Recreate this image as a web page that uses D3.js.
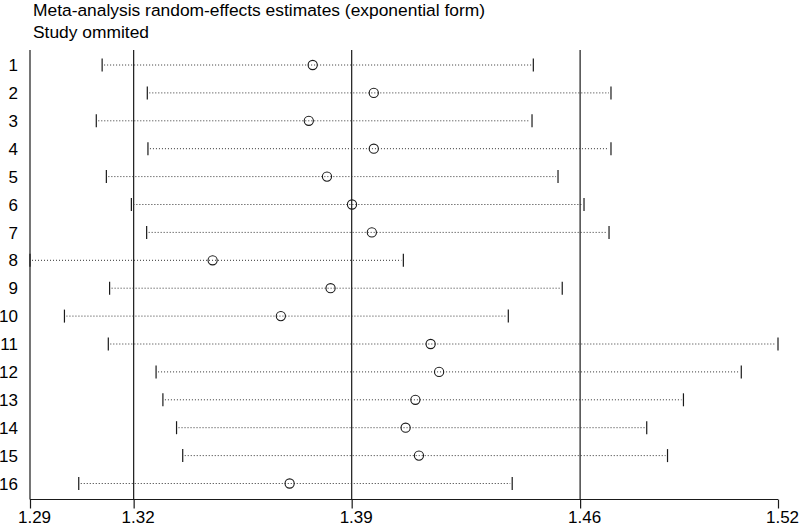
<!DOCTYPE html>
<html>
<head>
<meta charset="utf-8">
<script src="https://cdn.jsdelivr.net/npm/d3@7"></script>
<style>
  html, body { margin: 0; padding: 0; background: #fff; }
  svg { display: block; font-family: "Liberation Sans", Arial, sans-serif; }
</style>
</head>
<body>
<svg id="chart" width="800" height="526"></svg>
<script>
// ---- data (exponential form) ----
const studies = ["1","2","3","4","5","6","7","8","9","10","11","12","13","14","15","16"];
const estimate = [1.3770,1.3958,1.3758,1.3958,1.3814,1.3891,1.3952,1.3462,1.3825,1.3672,1.4133,1.4159,1.4086,1.4056,1.4097,1.3699];
const lower    = [1.3122,1.3261,1.3104,1.3263,1.3135,1.3212,1.3259,1.2900,1.3145,1.3006,1.3141,1.3288,1.3309,1.3351,1.3370,1.3050];
const upper    = [1.4449,1.4688,1.4445,1.4688,1.4525,1.4605,1.4682,1.4049,1.4538,1.4372,1.5202,1.5089,1.4911,1.4798,1.4862,1.4384];
const refLines = [1.3219, 1.3890, 1.4593];          // overall lower CI, estimate, upper CI
const tickValues = [1.2900, 1.3219, 1.3890, 1.4593, 1.5202];
const tickLabels = ["1.29","1.32","1.39","1.46","1.52"];
const titleLines = ["Meta-analysis random-effects estimates (exponential form)", "Study ommited"];

const svg = d3.select("#chart");
const ink = "#1a1a1a";

const x = d3.scaleLinear().domain([1.29, 1.5202]).range([30, 778]);
const y = d3.scalePoint().domain(studies).range([65, 483.5]);
const plotTop = 50, plotBottom = 499.5;

// title
svg.append("g").selectAll("text").data(titleLines).join("text")
  .attr("x", 33).attr("y", (d, i) => 16 + i * 22)
  .attr("font-size", 17.4).attr("fill", "#000")
  .text(d => d);

// reference vertical lines
svg.append("g").selectAll("line").data(refLines).join("line")
  .attr("x1", d => x(d)).attr("x2", d => x(d))
  .attr("y1", plotTop).attr("y2", plotBottom)
  .attr("stroke", ink).attr("stroke-width", 1.2);

// y axis line
svg.append("line").attr("x1", 30).attr("x2", 30).attr("y1", plotTop).attr("y2", plotBottom)
  .attr("stroke", ink).attr("stroke-width", 1.2);

// y labels
svg.append("g").selectAll("text").data(studies).join("text")
  .attr("x", 18).attr("y", d => y(d)).attr("dy", "0.36em")
  .attr("text-anchor", "end").attr("font-size", 17).attr("fill", "#000")
  .text(d => d);

// x axis
const xAxis = d3.axisBottom(x).tickValues(tickValues).tickSize(9).tickPadding(2)
  .tickFormat((d, i) => tickLabels[i]);
const gx = svg.append("g").attr("transform", `translate(0,${plotBottom})`).call(xAxis);
gx.select(".domain").attr("stroke", ink).attr("stroke-width", 1.2).attr("d", `M${x(1.29)},0H${x(1.5202)}`);
gx.selectAll(".tick line").attr("stroke", ink).attr("stroke-width", 1.2);
gx.selectAll(".tick text").attr("font-size", 17).attr("fill", "#000")
  .attr("font-family", "'Liberation Sans', Arial, sans-serif").attr("dx", 4);

// CI rows
const rows = studies.map((s, i) => ({ s, est: estimate[i], lo: lower[i], hi: upper[i] }));
const g = svg.append("g");
g.selectAll("line.ci").data(rows).join("line").attr("class", "ci")
  .attr("x1", d => x(d.lo) + 2).attr("x2", d => x(d.hi) - 2)
  .attr("y1", d => y(d.s)).attr("y2", d => y(d.s))
  .attr("stroke", "#333").attr("stroke-width", 1).attr("stroke-dasharray", "1,2");
g.selectAll("line.capl").data(rows).join("line").attr("class", "capl")
  .attr("x1", d => x(d.lo)).attr("x2", d => x(d.lo))
  .attr("y1", d => y(d.s) - 6.5).attr("y2", d => y(d.s) + 6.5)
  .attr("stroke", ink).attr("stroke-width", 1.2);
g.selectAll("line.caph").data(rows).join("line").attr("class", "caph")
  .attr("x1", d => x(d.hi)).attr("x2", d => x(d.hi))
  .attr("y1", d => y(d.s) - 6.5).attr("y2", d => y(d.s) + 6.5)
  .attr("stroke", ink).attr("stroke-width", 1.2);
g.selectAll("circle").data(rows).join("circle")
  .attr("cx", d => x(d.est)).attr("cy", d => y(d.s)).attr("r", 4.6)
  .attr("fill", "none").attr("stroke", ink).attr("stroke-width", 1.1);
</script>
</body>
</html>
